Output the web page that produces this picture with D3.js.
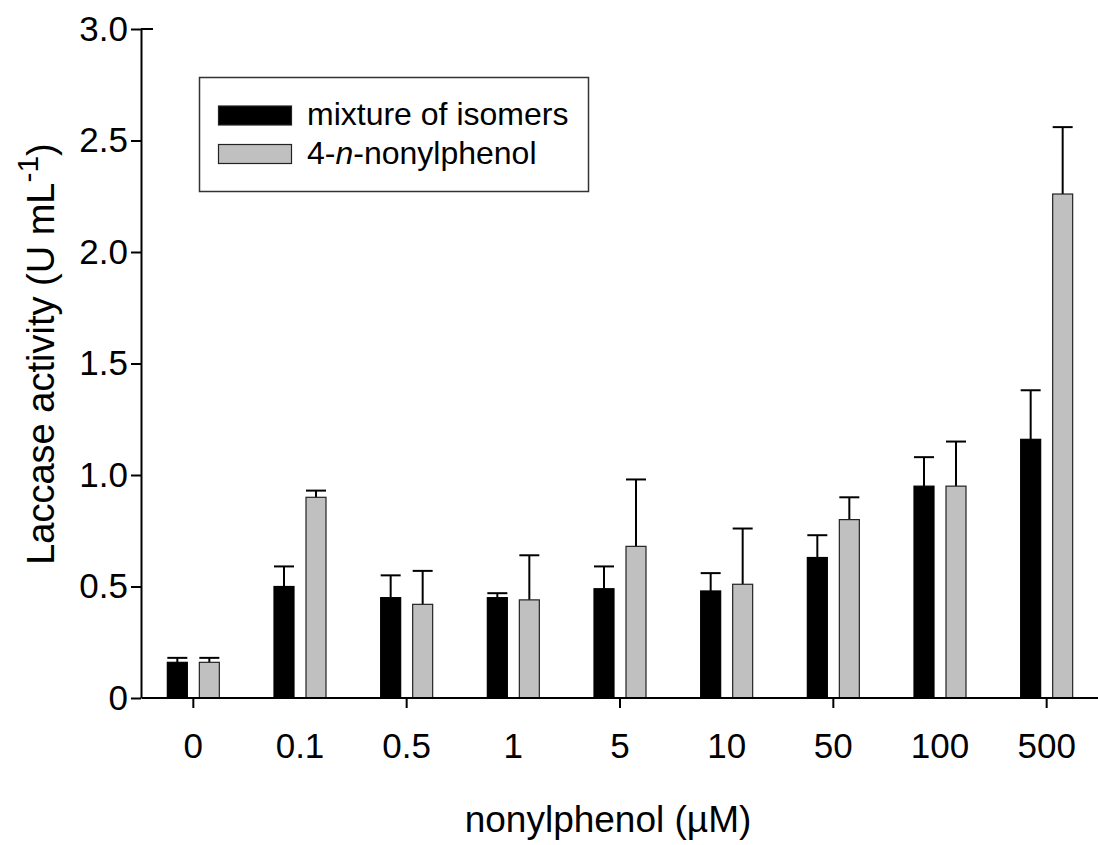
<!DOCTYPE html>
<html>
<head>
<meta charset="utf-8">
<script src="https://cdn.jsdelivr.net/npm/d3@7"></script>
<style>
  body { margin: 0; background: #fff; }
  text { font-family: "Liberation Sans", Arial, sans-serif; fill: #000; }
</style>
</head>
<body>
<svg id="chart"></svg>
<script>
// concentrations (µM)
const categories = ["0", "0.1", "0.5", "1", "5", "10", "50", "100", "500"];
const seriesNames = ["mixture of isomers", "4-n-nonylphenol"];
// laccase activity, U mL-1
const mixture = [0.16, 0.50, 0.45, 0.45, 0.49, 0.48, 0.63, 0.95, 1.16];
const mixtureErr = [0.02, 0.09, 0.10, 0.02, 0.10, 0.08, 0.10, 0.13, 0.22];
const linear = [0.16, 0.90, 0.42, 0.44, 0.68, 0.51, 0.80, 0.95, 2.26];
const linearErr = [0.02, 0.03, 0.15, 0.20, 0.30, 0.25, 0.10, 0.20, 0.30];
const yTicks = [0, 0.5, 1.0, 1.5, 2.0, 2.5, 3.0];

const width = 1098, height = 845;
const svg = d3.select("#chart").attr("width", width).attr("height", height);

let x = d3.scaleBand()
    .domain(categories)
    .range([140, 1100])
    .paddingInner(0.5125)
    .paddingOuter(0.25625);
let x1 = d3.scaleBand()
    .domain(seriesNames)
    .range([0, x.bandwidth()])
    .paddingInner(0.375);
let y = d3.scaleLinear().domain([0, 3]).range([698, 29]);

const colors = {"mixture of isomers": "#000000", "4-n-nonylphenol": "#c0c0c0"};

let rows = [];
categories.forEach(function (c, i) {
    rows.push({cat: c, s: seriesNames[0], v: mixture[i], e: mixtureErr[i]});
    rows.push({cat: c, s: seriesNames[1], v: linear[i], e: linearErr[i]});
});

// error bars (upper only), drawn under bars
let eb = svg.append("g").attr("class", "errors");
eb.selectAll("line.stem").data(rows).enter().append("line")
    .attr("x1", d => x(d.cat) + x1(d.s) + x1.bandwidth() / 2)
    .attr("x2", d => x(d.cat) + x1(d.s) + x1.bandwidth() / 2)
    .attr("y1", d => y(d.v))
    .attr("y2", d => y(d.v + d.e))
    .attr("stroke", "#000").attr("stroke-width", 2);
eb.selectAll("line.cap").data(rows).enter().append("line")
    .attr("x1", d => x(d.cat) + x1(d.s))
    .attr("x2", d => x(d.cat) + x1(d.s) + x1.bandwidth())
    .attr("y1", d => y(d.v + d.e))
    .attr("y2", d => y(d.v + d.e))
    .attr("stroke", "#000").attr("stroke-width", 2);

// bars
svg.append("g").selectAll("rect").data(rows).enter().append("rect")
    .attr("x", d => x(d.cat) + x1(d.s))
    .attr("y", d => y(d.v))
    .attr("width", x1.bandwidth())
    .attr("height", d => y(0) - y(d.v))
    .attr("fill", d => colors[d.s])
    .attr("stroke", d => d.s === seriesNames[0] ? "#000" : "#222")
    .attr("stroke-width", 1.2);

// x axis
let xAxis = svg.append("g")
    .attr("transform", "translate(0," + y(0) + ")")
    .call(d3.axisBottom(x).tickSize(10).tickPadding(25).tickSizeOuter(0));
xAxis.select(".domain").attr("stroke-width", 2).attr("d", "M142,0H1100");
xAxis.selectAll(".tick line").attr("stroke-width", 2)
    .attr("opacity", (d, i) => i % 2 === 0 ? 1 : 0);
xAxis.selectAll(".tick text").style("font-size", "35px")
    .style("font-family", "'Liberation Sans', Arial, sans-serif");

// y axis
let yAxis = svg.append("g")
    .attr("transform", "translate(141,0)")
    .call(d3.axisLeft(y).tickValues(yTicks).tickSize(10).tickPadding(3).tickSizeOuter(0)
        .tickFormat(d => d === 0 ? "0" : d3.format(".1f")(d)));
yAxis.select(".domain").attr("stroke-width", 2);
yAxis.selectAll(".tick line").attr("stroke-width", 2);
yAxis.selectAll(".tick text").style("font-size", "35px")
    .style("font-family", "'Liberation Sans', Arial, sans-serif");
yAxis.append("line")
    .attr("x1", 0).attr("x2", 12)
    .attr("y1", y(3)).attr("y2", y(3))
    .attr("stroke", "#000").attr("stroke-width", 2);

// axis titles
svg.append("text")
    .attr("x", 608).attr("y", 832)
    .attr("text-anchor", "middle")
    .style("font-size", "37px")
    .text("nonylphenol (µM)");

let yl = svg.append("text")
    .attr("transform", "translate(54,354) rotate(-90)")
    .attr("text-anchor", "middle")
    .style("font-size", "38px");
yl.append("tspan").text("Laccase activity (U mL");
yl.append("tspan").attr("dy", -16).style("font-size", "30px").text("-1");
yl.append("tspan").attr("dy", 16).text(")");

// legend
let lg = svg.append("g");
lg.append("rect")
    .attr("x", 199.5).attr("y", 77.5).attr("width", 389).attr("height", 114)
    .attr("fill", "#fff").attr("stroke", "#333").attr("stroke-width", 1.5);
let legendRows = lg.selectAll("g.item").data(seriesNames).enter().append("g")
    .attr("transform", (d, i) => "translate(0," + (i * 38.5) + ")");
legendRows.append("rect")
    .attr("x", 218.5).attr("y", 106).attr("width", 73).attr("height", 19)
    .attr("fill", d => colors[d])
    .attr("stroke", "#222").attr("stroke-width", 1.2);
let lt = legendRows.append("text")
    .attr("x", 307).attr("y", 125)
    .style("font-size", "32px");
lt.filter(d => d === seriesNames[0]).text(d => d);
let lt2 = lt.filter(d => d === seriesNames[1]);
lt2.append("tspan").text("4-");
lt2.append("tspan").style("font-style", "italic").text("n");
lt2.append("tspan").text("-nonylphenol");
</script>
</body>
</html>
